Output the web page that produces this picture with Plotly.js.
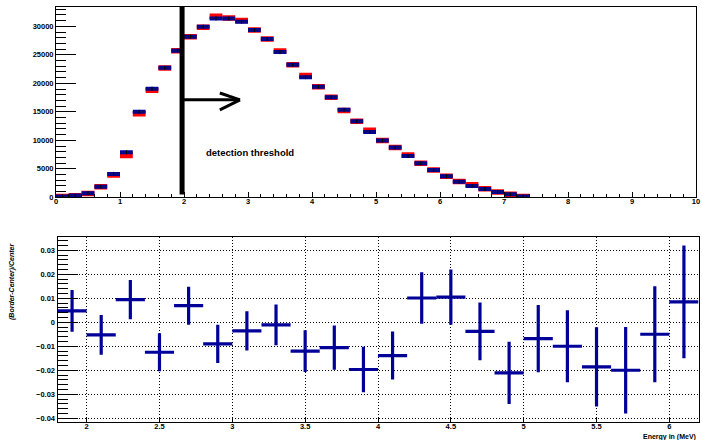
<!DOCTYPE html>
<html>
<head>
<meta charset="utf-8">
<script src="https://cdn.plot.ly/plotly-3.0.1.min.js"></script>
<style>html,body{margin:0;padding:0;background:#fff;}#chart{width:702px;height:440px;}</style>
</head>
<body>
<div id="chart"></div>
<script>
// Top histogram: bin centers (MeV), two spectra (blue = center, red = border)
const binCenters = [0.1,0.3,0.5,0.7,0.9,1.1,1.3,1.5,1.7,1.9,2.1,2.3,2.5,2.7,2.9,3.1,3.3,3.5,3.7,3.9,4.1,4.3,4.5,4.7,4.9,5.1,5.3,5.5,5.7,5.9,6.1,6.3,6.5,6.7,6.9,7.1,7.3];
const centerCounts = [150,300,700,1870,4100,7900,15000,19040,22730,25720,28180,29940,31400,31400,30820,29350,27770,25490,23260,21090,19390,17580,15350,13360,11480,9950,8720,7260,5970,4800,3690,2740,1990,1460,930,530,120];
const borderCounts = [150,280,650,1850,3900,7320,14650,18800,22700,25720,28200,29850,31760,31450,31050,29350,27770,25670,23260,21380,19390,17580,15250,13360,11770,9950,8750,7430,5970,4780,3690,2760,2210,1480,950,540,130];
const halfBin = [0.1];

// Bottom: relative difference (Border-Center)/Center
const diffX = [1.9,2.1,2.3,2.5,2.7,2.9,3.1,3.3,3.5,3.7,3.9,4.1,4.3,4.5,4.7,4.9,5.1,5.3,5.5,5.7,5.9,6.1];
const diffY = [0.0047,-0.0053,0.0094,-0.0125,0.0069,-0.0090,-0.0036,-0.0011,-0.0120,-0.0106,-0.0197,-0.0139,0.0101,0.0105,-0.0038,-0.0211,-0.0068,-0.0100,-0.0186,-0.0200,-0.0050,0.0085];
const diffErr = [0.0087,0.0083,0.0082,0.0079,0.0079,0.0080,0.0082,0.0085,0.0087,0.0092,0.0095,0.0100,0.0107,0.0115,0.0120,0.0130,0.0140,0.0150,0.0165,0.0180,0.0200,0.0235];

const threshold = 1.97;

const BLUE = '#000099';
const RED = '#ff0000';
const tickFont = {family: 'Liberation Sans, Arial, sans-serif', size: 7.5, color: '#000', weight: 'bold'};

const cst = (v, n) => new Array(n).fill(v);

const traces = [
  {x: binCenters, y: borderCounts, type: 'scatter', mode: 'markers', xaxis: 'x', yaxis: 'y',
   marker: {size: 0.1, color: RED},
   error_x: {type: 'data', array: cst(halfBin[0], binCenters.length), thickness: 5.5, width: 0, color: RED},
   hoverinfo: 'skip', showlegend: false},
  {x: binCenters, y: centerCounts, type: 'scatter', mode: 'markers', xaxis: 'x', yaxis: 'y',
   marker: {size: 0.1, color: BLUE},
   error_x: {type: 'data', array: cst(halfBin[0], binCenters.length), thickness: 4, width: 0, color: BLUE},
   hoverinfo: 'skip', showlegend: false},
  {x: binCenters, y: centerCounts, type: 'scatter', mode: 'markers', xaxis: 'x', yaxis: 'y',
   marker: {symbol: 'line-ns-open', size: 3, color: '#000', line: {width: 1, color: '#000'}},
   error_x: {type: 'data', array: cst(halfBin[0], binCenters.length), thickness: 0.5, width: 0, color: '#222'},
   hoverinfo: 'skip', showlegend: false},
  {x: diffX, y: diffY, type: 'scatter', mode: 'markers', xaxis: 'x2', yaxis: 'y2',
   marker: {size: 0.1, color: BLUE},
   error_x: {type: 'data', array: cst(halfBin[0], diffX.length), thickness: 3.2, width: 0, color: BLUE},
   error_y: {type: 'data', array: diffErr, thickness: 3.2, width: 0, color: BLUE},
   hoverinfo: 'skip', showlegend: false}
];

const W = 702, H = 440;
const layout = {
  width: W, height: H,
  margin: {l: 0, r: 0, t: 0, b: 0},
  paper_bgcolor: '#fff', plot_bgcolor: '#fff',
  showlegend: false,
  xaxis: {
    domain: [56/W, 696/W], anchor: 'y', range: [0, 10], dtick: 1, tick0: 0,
    ticks: 'inside', ticklen: 5, tickwidth: 1, tickcolor: '#000', ticklabelstandoff: -3,
    minor: {dtick: 0.2, ticks: 'inside', ticklen: 3, tickcolor: '#000', showgrid: false},
    showline: true, linecolor: '#000', linewidth: 1, mirror: true,
    showgrid: false, zeroline: false, tickfont: tickFont
  },
  yaxis: {
    domain: [(H-197.3)/H, (H-7)/H], anchor: 'x', range: [0, 33400], dtick: 5000, tick0: 0,
    tickformat: 'd',
    ticks: 'inside', ticklen: 20, tickwidth: 1, tickcolor: '#000',
    minor: {dtick: 1000, ticks: 'inside', ticklen: 10, tickcolor: '#000', showgrid: false},
    showline: true, linecolor: '#000', linewidth: 1, mirror: true,
    showgrid: false, zeroline: false, tickfont: tickFont
  },
  xaxis2: {
    domain: [57.5/W, 698.5/W], anchor: 'y2', range: [1.8, 6.2], dtick: 0.5, tick0: 0,
    ticks: 'inside', ticklen: 5, tickwidth: 1, tickcolor: '#000', ticklabelstandoff: -3,
    showline: true, linecolor: '#000', linewidth: 1, mirror: true,
    showgrid: true, gridcolor: '#000', griddash: '1px,2px', gridwidth: 1,
    zeroline: false, tickfont: tickFont
  },
  yaxis2: {
    domain: [(H-422.3)/H, (H-237.3)/H], anchor: 'x2', range: [-0.0417, 0.0354], dtick: 0.01, tick0: 0,
    ticks: 'inside', ticklen: 20, tickwidth: 1, tickcolor: '#000',
    minor: {dtick: 0.002, ticks: 'inside', ticklen: 10, tickcolor: '#000', showgrid: false},
    showline: true, linecolor: '#000', linewidth: 1, mirror: true,
    showgrid: true, gridcolor: '#000', griddash: '1px,2px', gridwidth: 1,
    zeroline: false, tickfont: tickFont
  },
  shapes: [
    {type: 'line', xref: 'x', yref: 'y', x0: threshold, x1: threshold, y0: 500, y1: 33400,
     line: {color: '#000', width: 5}},
    {type: 'line', xref: 'x', yref: 'y', x0: threshold + 0.03, x1: 2.87, y0: 17100, y1: 17100,
     line: {color: '#000', width: 3}},
    {type: 'line', xref: 'x', yref: 'y', x0: 2.56, x1: 2.875, y0: 18300, y1: 17100,
     line: {color: '#000', width: 3}},
    {type: 'line', xref: 'x', yref: 'y', x0: 2.56, x1: 2.875, y0: 15350, y1: 17100,
     line: {color: '#000', width: 3}}
  ],
  annotations: [
    {xref: 'x', yref: 'y', x: 2.31, y: 7840, xanchor: 'left', yanchor: 'middle', showarrow: false,
     text: 'detection threshold', font: {family: 'Liberation Sans, Arial, sans-serif', size: 9.5, color: '#000', weight: 'bold'}},
    {xref: 'paper', yref: 'paper', x: 12/W, y: (H-240)/H, xanchor: 'center', yanchor: 'top', showarrow: false,
     textangle: -90, text: '<i>(Border-Center)/Center</i>',
     font: {family: 'Liberation Sans, Arial, sans-serif', size: 7, color: '#000', weight: 'bold'}},
    {xref: 'paper', yref: 'paper', x: 697.5/W, y: (H-436.5)/H, xanchor: 'right', yanchor: 'middle', showarrow: false,
     text: 'Energy in (MeV)', font: {family: 'Liberation Sans, Arial, sans-serif', size: 7, color: '#000', weight: 'bold'}}
  ]
};

Plotly.newPlot('chart', traces, layout, {displayModeBar: false, staticPlot: true});
</script>
</body>
</html>
